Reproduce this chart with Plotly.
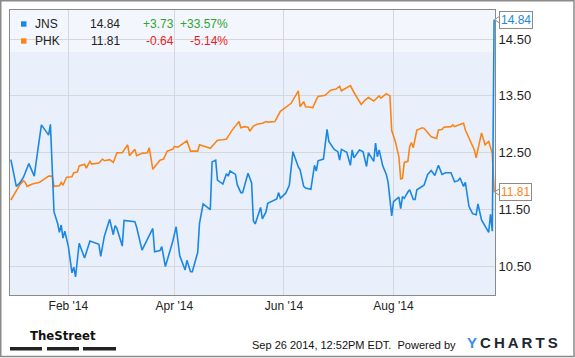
import pandas as pd
import plotly.graph_objects as go

# ---------------- data (days counted from 2014-01-01) ----------------
BASE_DATE = "2014-01-01"

jns_day = [-1, 2, 4, 6, 9, 12, 14, 16, 20, 21, 23, 25, 26, 27, 28, 29, 31, 33, 34, 35,
           37, 40, 43, 48, 49, 51, 54, 56, 57, 58, 61, 62, 68, 69, 72, 75, 76, 78, 79, 82,
           83, 85, 89, 91, 93, 96, 97, 99, 100, 103, 104, 106, 110, 111, 113, 114, 117, 119, 120, 121,
           124, 125, 127, 128, 131, 133, 134, 135, 138, 139, 141, 142, 147, 148, 149, 152, 154, 156, 159, 160,
           162, 163, 166, 168, 169, 170, 173, 175, 176, 179, 181, 182, 183, 186, 188, 189, 190, 193, 195, 197,
           198, 201, 202, 203, 204, 206, 208, 209, 211, 212, 215, 216, 217, 218, 220, 221, 223, 224, 225, 229,
           231, 233, 235, 237, 239, 241, 244, 246, 248, 249, 251, 252, 254, 256, 258, 259, 261, 263, 265, 266,
           267, 268]
jns_close = [12.38, 11.91, 11.97, 12.07, 12.31, 12.09, 12.55, 12.99, 12.81, 13.00, 11.46, 11.26, 11.10, 11.23, 11.00, 11.12, 10.85, 10.39, 10.49, 10.32,
             10.91, 10.65, 10.95, 10.89, 10.68, 11.03, 11.33, 11.06, 11.22, 11.17, 10.86, 11.31, 11.29, 11.19, 10.79, 10.97, 11.03, 11.17, 10.76, 10.78,
             10.85, 10.50, 10.93, 11.20, 10.69, 10.44, 10.61, 10.41, 10.41, 10.75, 11.26, 11.60, 11.50, 12.34, 12.37, 12.02, 11.95, 12.13, 12.09, 12.18,
             12.12, 11.94, 11.80, 11.80, 12.14, 11.97, 11.30, 11.25, 11.54, 11.34, 11.46, 11.61, 11.69, 11.80, 11.70, 11.79, 11.93, 12.52, 12.25, 12.20,
             11.91, 11.88, 11.86, 12.28, 12.18, 12.36, 12.39, 12.91, 12.70, 12.56, 12.52, 12.37, 12.56, 12.51, 12.28, 12.55, 12.41, 12.55, 12.52, 12.26,
             12.50, 12.35, 12.67, 12.43, 12.55, 12.27, 12.12, 11.98, 11.39, 11.64, 11.72, 11.52, 11.73, 11.70, 11.81, 11.85, 11.68, 11.68, 11.85, 11.93,
             12.12, 12.19, 12.10, 12.28, 12.12, 12.15, 12.15, 11.99, 12.01, 12.06, 11.91, 11.98, 11.56, 11.43, 11.41, 11.60, 11.32, 11.22, 11.10, 11.42,
             11.12, 14.84]

phk_day = [-1, 1, 4, 6, 7, 8, 10, 11, 15, 18, 20, 22, 23, 26, 27, 28, 30, 33, 34, 36,
           37, 40, 41, 43, 44, 48, 50, 51, 54, 56, 58, 61, 64, 65, 68, 69, 72, 75, 76, 78,
           80, 82, 84, 86, 89, 90, 92, 94, 97, 99, 103, 104, 107, 110, 112, 114, 117, 119, 122, 125,
           126, 127, 129, 131, 132, 134, 136, 139, 141, 142, 146, 149, 153, 155, 159, 160, 162, 163, 166, 167,
           169, 170, 174, 177, 180, 182, 183, 186, 188, 190, 194, 196, 198, 201, 204, 205, 208, 210, 211, 213,
           215, 216, 217, 218, 220, 221, 222, 223, 225, 228, 229, 233, 236, 237, 239, 240, 244, 245, 246, 250,
           251, 252, 254, 257, 258, 261, 263, 265, 267, 268]
phk_close = [11.67, 11.78, 11.94, 12.01, 11.98, 11.91, 11.94, 11.95, 11.98, 12.04, 12.09, 12.09, 11.91, 11.92, 11.98, 11.93, 12.07, 12.08, 12.15, 12.16,
             12.27, 12.30, 12.23, 12.35, 12.30, 12.32, 12.39, 12.36, 12.38, 12.33, 12.50, 12.50, 12.64, 12.45, 12.56, 12.45, 12.49, 12.50, 12.59, 12.21,
             12.29, 12.37, 12.39, 12.53, 12.56, 12.61, 12.60, 12.64, 12.71, 12.53, 12.53, 12.64, 12.61, 12.58, 12.65, 12.72, 12.73, 12.74, 12.89, 13.02,
             13.05, 12.94, 12.96, 12.95, 12.88, 12.97, 13.00, 13.02, 13.05, 13.04, 13.05, 13.23, 13.33, 13.37, 13.59, 13.31, 13.40, 13.31, 13.30, 13.29,
             13.43, 13.49, 13.51, 13.60, 13.62, 13.67, 13.59, 13.64, 13.68, 13.56, 13.35, 13.42, 13.47, 13.41, 13.50, 13.46, 13.54, 13.50, 12.89, 12.70,
             12.43, 12.04, 12.05, 12.33, 12.35, 12.61, 12.68, 12.59, 12.90, 12.94, 12.93, 12.78, 12.75, 12.90, 12.91, 12.95, 12.96, 12.99, 12.96, 13.01,
             13.02, 12.90, 12.76, 12.55, 12.41, 12.85, 12.64, 12.70, 12.49, 11.81]

tickers = ["JNS", "PHK"]
last_price = [14.84, 11.81]
day_change = [3.73, -0.64]
day_change_pct = [33.57, -5.14]

y_tick_values = [10.5, 11.5, 12.5, 13.5, 14.5]
x_tick_dates = ["2014-02-01", "2014-04-01", "2014-06-01", "2014-08-01"]

# ---------------- styles ----------------
BLUE = "#1a87e4"
ORANGE = "#fb8419"
GREEN = "#2fa52f"
RED = "#ee1c1c"
TEXT = "#222222"
FONT = "Liberation Sans, Arial, sans-serif"
W, H = 575, 358
ML, MR, MT, MB = 10, 80, 10, 63
PW, PH = W - ML - MR, H - MT - MB


def px_x(px):
    return (px - ML) / PW


def px_y(py):
    return (H - MB - py) / PH


def to_dates(days):
    return pd.Timestamp(BASE_DATE) + pd.to_timedelta(days, unit="D")


fig = go.Figure()
fig.add_trace(go.Scatter(x=to_dates(phk_day), y=phk_close, mode="lines",
                         line=dict(color=ORANGE, width=1.6), name="PHK"))
fig.add_trace(go.Scatter(x=to_dates(jns_day), y=jns_close, mode="lines",
                         line=dict(color=BLUE, width=1.6), name="JNS"))

shapes = []
annotations = []

# legend band (semi-transparent white)
shapes.append(dict(type="rect", xref="paper", yref="paper", x0=0, x1=1, y0=px_y(52), y1=1,
                   fillcolor="rgba(255,255,255,0.45)", line=dict(width=0), layer="below"))

colors = [BLUE, ORANGE]
for i, t in enumerate(tickers):
    cy = 24 + 17 * i
    shapes.append(dict(type="rect", xref="paper", yref="paper",
                       x0=px_x(21), x1=px_x(26.5), y0=px_y(cy + 2.7), y1=px_y(cy - 2.7),
                       fillcolor=colors[i], line=dict(width=0)))
    chg_col = GREEN if day_change[i] >= 0 else RED
    sign = "+" if day_change[i] >= 0 else ""
    items = [
        (t, 33, "left", TEXT),
        (f"{last_price[i]:.2f}", 122, "right", TEXT),
        (f"{sign}{day_change[i]:.2f}", 176, "right", chg_col),
        (f"{sign}{day_change_pct[i]:.2f}%", 230, "right", chg_col),
    ]
    for txt, x, anchor, col in items:
        annotations.append(dict(text=txt, xref="paper", yref="paper", x=px_x(x), y=px_y(cy),
                                xanchor=anchor, yanchor="middle", showarrow=False,
                                font=dict(family=FONT, size=12, color=col)))

# end value callouts
for v, col in [(last_price[0], BLUE), (last_price[1], ORANGE)]:
    tip, base = px_x(494.5), px_x(500.5)
    shapes.append(dict(type="path", xref="paper", yref="y",
                       path=f"M {tip},{v} L {base},{v + 0.07} L {base},{v - 0.07} Z",
                       fillcolor="white", line=dict(color="#8a8a8a", width=1)))
    annotations.append(dict(text=f"{v:.2f}", xref="paper", yref="y", x=1, y=v, xshift=4,
                            xanchor="left", yanchor="middle", showarrow=False,
                            bgcolor="white", bordercolor="#8a8a8a", borderwidth=1, borderpad=1,
                            font=dict(family=FONT, size=12, color=col)))

# footer
annotations.append(dict(text="<b>TheStreet</b>", xref="paper", yref="paper", x=px_x(63), y=px_y(335),
                        xanchor="center", yanchor="middle", showarrow=False,
                        font=dict(family="DejaVu Sans Condensed, Liberation Sans Narrow, Arial Narrow, sans-serif",
                                  size=13, color="#111")))
for x0, x1 in [(10, 42), (47, 79), (83, 116)]:
    shapes.append(dict(type="rect", xref="paper", yref="paper", x0=px_x(x0), x1=px_x(x1),
                       y0=px_y(350.5), y1=px_y(347), fillcolor="#222", line=dict(width=0)))
annotations.append(dict(text="Sep 26 2014, 12:52PM EDT.  Powered by", xref="paper", yref="paper",
                        x=px_x(458), y=px_y(345), xanchor="right", yanchor="middle", showarrow=False,
                        font=dict(family=FONT, size=11, color="#111")))
thin = "\u2009"
ych = "<b><span style='color:#3b8fe6'>Y</span>" + thin + thin.join(
    "<span style='color:#1d2731'>" + c + "</span>" for c in "CHARTS") + "</b>"
annotations.append(dict(text=ych, xref="paper", yref="paper", x=px_x(465), y=px_y(342.5),
                        xanchor="left", yanchor="middle", showarrow=False,
                        font=dict(family=FONT, size=15, color="#1d2731")))

# outer frame
shapes.append(dict(type="rect", xref="paper", yref="paper",
                   x0=px_x(0.75), x1=px_x(574), y0=px_y(356.5), y1=px_y(0.75),
                   fillcolor="rgba(0,0,0,0)", line=dict(color="#8a8a8a", width=1.5)))

fig.update_layout(
    width=W, height=H, margin=dict(l=ML, r=MR, t=MT, b=MB),
    paper_bgcolor="white", plot_bgcolor="#eaf0fb", showlegend=False,
    shapes=shapes, annotations=annotations,
    xaxis=dict(type="date", range=["2013-12-30 12:00", "2014-09-26 12:00"],
               tickvals=x_tick_dates, tickformat="%b '%y", ticks="",
               showgrid=True, gridcolor="#d5d7da", gridwidth=1, zeroline=False,
               showline=True, mirror=True, linecolor="#8a8a8a", linewidth=1,
               tickfont=dict(family=FONT, size=12, color=TEXT)),
    yaxis=dict(side="right", range=[10.0, 15.01], tickvals=y_tick_values, tickformat=".2f",
               ticks="", showgrid=True, gridcolor="#d5d7da", gridwidth=1, zeroline=False,
               showline=True, mirror=True, linecolor="#8a8a8a", linewidth=1,
               tickfont=dict(family=FONT, size=13, color=TEXT)),
)

fig.write_html("out.html")
